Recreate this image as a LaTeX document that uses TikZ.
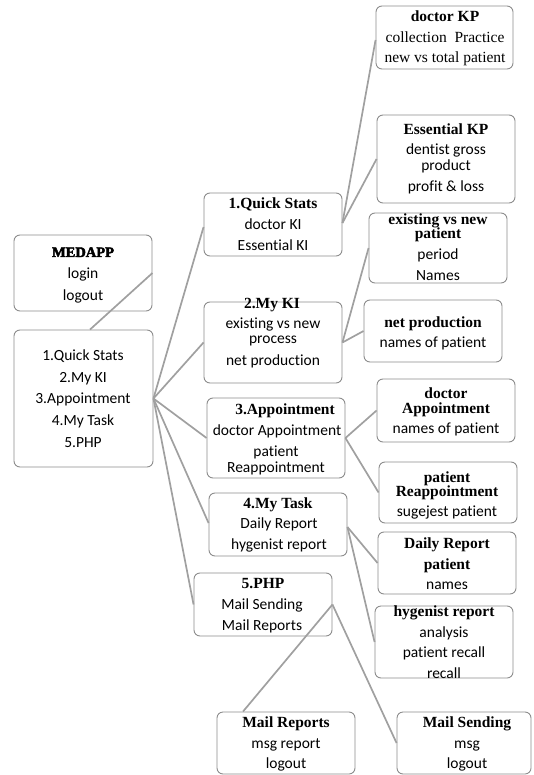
\documentclass[tikz,border=0pt]{standalone}
\usepackage{fontspec}
\setmainfont{Carlito}[Ligatures=NoCommon]
\newfontfamily\serfont{Liberation Serif}
\newfontfamily\serbold{Liberation Serif Bold}
\newfontfamily\medfont{Liberation Serif Bold}[FakeBold=3]
\definecolor{boxgray}{HTML}{8C8C8C}
\definecolor{linegray}{HTML}{A0A0A0}
\tikzset{
  box/.style={draw=boxgray, line width=0.9pt, rounded corners=6pt, minimum width=138pt, minimum height=#1, inner sep=0pt},
  conn/.style={draw=linegray, line width=1.7pt},
  tx/.style={font=\fontsize{15.5}{18}\selectfont, anchor=base, inner sep=0pt},
  tb/.style={font=\serbold\fontsize{15.5}{18}\selectfont, anchor=base, inner sep=0pt},
  ts/.style={font=\serfont\fontsize{15.5}{18}\selectfont, anchor=base, inner sep=0pt},
}
\begin{document}
\begin{tikzpicture}[x=1pt,y=-1pt]
\useasboundingbox (0,0) rectangle (533,775);
% boxes
\node[box=76pt]  (medapp) at (83,273) {};
\node[box=137pt, minimum width=139pt] (main) at (83.5,398.5) {};
\node[box=63pt]  (qs)  at (273,224.5) {};
\node[box=81pt]  (mk)  at (273,342.5) {};
\node[box=80pt]  (ap)  at (276,438) {};
\node[box=63pt]  (mt)  at (278,524.5) {};
\node[box=63pt]  (php) at (263,604.5) {};
\node[box=63pt, minimum width=137pt] (dkp) at (444.5,37.5) {};
\node[box=88pt]  (ekp) at (446,159) {};
\node[box=70pt]  (evn) at (438,248) {};
\node[box=62pt]  (np)  at (433,331) {};
\node[box=63pt]  (da)  at (446,410.5) {};
\node[box=61pt]  (pr)  at (448,492.5) {};
\node[box=62pt]  (dr)  at (447,563) {};
\node[box=72pt]  (hr)  at (444,642) {};
\node[box=62pt]  (mr)  at (286,743) {};
\node[box=62pt, minimum width=134pt] (ms) at (464,743) {};
% connectors
\draw[conn] (medapp.east) -- ([xshift=6.5pt]main.north);
\draw[conn] (main.east) -- ([yshift=-2.5pt]qs.west);
\draw[conn] (main.east) -- (mk.west);
\draw[conn] (main.east) -- (ap.west);
\draw[conn] (main.east) -- ([yshift=1.5pt]mt.west);
\draw[conn] (main.east) -- (php.west);
\draw[conn] ([yshift=1.5pt]qs.east) -- ([yshift=-2.5pt]dkp.west);
\draw[conn] ([yshift=1.5pt]qs.east) -- (ekp.west);
\draw[conn] (mk.east) -- (evn.west);
\draw[conn] (mk.east) -- (np.west);
\draw[conn] (ap.east) -- (da.west);
\draw[conn] (ap.east) -- (pr.west);
\draw[conn] ([yshift=-2.5pt]mt.east) -- (dr.west);
\draw[conn] ([yshift=-2.5pt]mt.east) -- (hr.west);
\draw[conn] (php.east) -- ([xshift=-43pt]mr.north);
\draw[conn] (php.east) -- (ms.west);
% texts
\node[anchor=base, inner sep=0pt, font=\medfont\fontsize{14.5}{16}\selectfont] (t-med1) at (83,257) {MEDAPP};
\node[tx] (t-med2) at (83,278) {login};
\node[tx] (t-med3) at (83,300) {logout};
\node[tx] (t-main1) at (83,360) {1.Quick Stats};
\node[tx] (t-main2) at (83,382) {2.My KI};
\node[tx] (t-main3) at (83,403) {3.Appointment};
\node[tx] (t-main4) at (83,425) {4.My Task};
\node[tx] (t-main5) at (83,447) {5.PHP};
\node[tb] (t-qs1) at (273,209) {1.Quick Stats};
\node[tx] (t-qs2) at (273,230) {doctor KI};
\node[tx] (t-qs3) at (273,251) {Essential KI};
\node[tb] (t-mk1) at (272,308) {2.My KI};
\node[tx] (t-mk2) at (273,328) {existing vs new};
\node[tx] (t-mk3) at (273,343) {process};
\node[tx] (t-mk4) at (273,365) {net production};
\node[tb] (t-ap1) at (285,414) {3.Appointment};
\node[tx] (t-ap2) at (277,435) {doctor Appointment};
\node[tx] (t-ap3) at (276,456) {patient};
\node[tx] (t-ap4) at (276,472) {Reappointment};
\node[tb] (t-mt1) at (278,508) {4.My Task};
\node[tx] (t-mt2) at (279,528) {Daily Report};
\node[tx] (t-mt3) at (279,549) {hygenist report};
\node[tb] (t-php1) at (263,588) {5.PHP};
\node[tx] (t-php2) at (262,609) {Mail Sending};
\node[tx] (t-php3) at (262,630) {Mail Reports};
\node[tb] (t-dkp1) at (445,22) {doctor KP};
\node[ts] (t-dkp2) at (445,43) {collection\enspace Practice};
\node[ts] (t-dkp3) at (445,63) {new vs total patient};
\node[tb] (t-ekp1) at (446,135) {Essential KP};
\node[tx] (t-ekp2) at (446,155) {dentist gross};
\node[tx] (t-ekp3) at (446,171) {product};
\node[tx] (t-ekp4) at (446,192) {profit \& loss};
\node[tb] (t-evn1) at (438,225) {existing vs new};
\node[tb] (t-evn2) at (438,239) {patient};
\node[tx] (t-evn3) at (438,259) {period};
\node[tx] (t-evn4) at (438,280) {Names};
\node[tb] (t-np1) at (433,327) {net production};
\node[tx] (t-np2) at (433,347) {names of patient};
\node[tb] (t-da1) at (446,398) {doctor};
\node[tb] (t-da2) at (446,413) {Appointment};
\node[tx] (t-da3) at (446,433) {names of patient};
\node[tb] (t-pr1) at (447,482) {patient};
\node[tb] (t-pr2) at (447,496) {Reappointment};
\node[tx] (t-pr3) at (447,516) {sugejest patient};
\node[tb] (t-dr1) at (447,548) {Daily Report};
\node[tb] (t-dr2) at (447,569) {patient};
\node[tx] (t-dr3) at (447,589) {names};
\node[tb] (t-hr1) at (444,616) {hygenist report};
\node[tx] (t-hr2) at (444,637) {analysis};
\node[tx] (t-hr3) at (444,657) {patient recall};
\node[tx] (t-hr4) at (444,678) {recall};
\node[tb] (t-mr1) at (286,727) {Mail Reports};
\node[tx] (t-mr2) at (286,748) {msg report};
\node[tx] (t-mr3) at (286,768) {logout};
\node[tb] (t-ms1) at (467,727) {Mail Sending};
\node[tx] (t-ms2) at (467,748) {msg};
\node[tx] (t-ms3) at (467,768) {logout};
\end{tikzpicture}
\end{document}
